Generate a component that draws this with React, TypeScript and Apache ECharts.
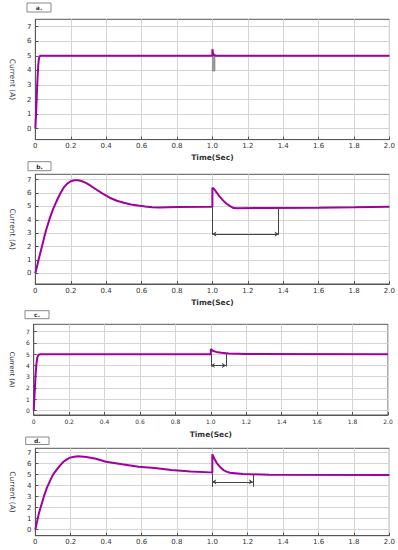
import React, { useEffect, useRef } from "react";
import * as echarts from "echarts";

// Panel a
const tA = [0, 0.004, 0.008, 0.012, 0.016, 0.02, 0.025, 0.03, 1.0, 1.0, 1.003, 1.006, 1.01, 1.02, 2.0];
const iA = [0, 1.0, 2.2, 3.4, 4.3, 4.8, 4.97, 5.0, 5.0, 5.45, 5.2, 5.1, 5.05, 5.0, 5.0];
// Panel b
const tB = [0, 0.02, 0.04, 0.06, 0.08, 0.1, 0.12, 0.14, 0.16, 0.18, 0.2, 0.22, 0.24, 0.26, 0.28, 0.3, 0.34, 0.38, 0.42, 0.46, 0.5, 0.54, 0.58, 0.62, 0.66, 0.7, 0.75, 0.8, 1.0, 1.0, 1.01, 1.02, 1.04, 1.06, 1.08, 1.1, 1.12, 1.14, 1.3, 1.6, 1.8, 2.0];
const iB = [0, 1.1, 2.15, 3.2, 4.05, 4.8, 5.4, 5.95, 6.4, 6.7, 6.88, 6.96, 6.96, 6.9, 6.8, 6.65, 6.3, 5.95, 5.65, 5.42, 5.27, 5.15, 5.06, 4.99, 4.94, 4.92, 4.94, 4.95, 4.97, 6.4, 6.3, 6.1, 5.75, 5.45, 5.2, 5.02, 4.88, 4.86, 4.88, 4.9, 4.93, 4.97];
// Panel c
const tC = [0, 0.005, 0.01, 0.015, 0.02, 0.025, 0.03, 0.04, 1.0, 1.0, 1.01, 1.03, 1.06, 1.1, 1.2, 2.0];
const iC = [0, 1.5, 3.0, 4.1, 4.7, 4.9, 4.97, 5.0, 5.0, 5.45, 5.3, 5.2, 5.12, 5.06, 5.02, 5.0];
// Panel d
const tD = [0, 0.01, 0.02, 0.035, 0.048, 0.065, 0.085, 0.1, 0.122, 0.14, 0.159, 0.18, 0.196, 0.22, 0.242, 0.288, 0.343, 0.399, 0.49, 0.583, 0.675, 0.768, 0.878, 0.989, 1.0, 1.0, 1.013, 1.026, 1.045, 1.063, 1.08, 1.1, 1.173, 1.32, 2.0];
const iD = [0, 0.75, 1.48, 2.3, 3.0, 3.8, 4.5, 5.0, 5.48, 5.85, 6.18, 6.42, 6.55, 6.64, 6.67, 6.6, 6.45, 6.18, 5.94, 5.73, 5.6, 5.42, 5.3, 5.21, 5.2, 6.85, 6.4, 6.03, 5.68, 5.42, 5.28, 5.18, 5.06, 4.99, 4.97];

// Annotations: [xStart, xEnd, yTopStart, yTopEnd, yBottom, yArrow]
const annB = [1.0, 1.374, 4.97, 4.89, 2.88, 2.93];
const annC = [1.0, 1.085, 5.0, 5.05, 3.9, 4.0];
const annD = [1.0, 1.229, 5.1, 5.02, 3.9, 4.35];
const spikeBarA = [1.0, 1.015, 3.95, 5.0];

const yTicks = [0, 1, 2, 3, 4, 5, 6, 7];
const panelLabels = ["a.", "b.", "c.", "d."];

const PURPLE = "#a000a0";
const FONT = "DejaVu Sans";

export default function App() {
  const ref = useRef<HTMLDivElement>(null);
  useEffect(() => {
    const chart = echarts.init(ref.current!, null, { renderer: "svg" });

    const grids = [
      { left: 28, top: 19.3, width: 362, height: 120.3 },
      { left: 29, top: 174.3, width: 363, height: 109.7 },
      { left: 26, top: 324.3, width: 362, height: 90.7 },
      { left: 28, top: 448.3, width: 361.3, height: 87.4 },
    ];
    const yRanges = [
      [-0.75, 7.5],
      [-0.8, 7.4],
      [-0.4, 7.65],
      [-0.55, 7.4],
    ];
    const fontSizes = [7, 7, 6, 7];
    const showName = [true, true, true, false];

    const xAxes = grids.map((_, k) => ({
      type: "value",
      gridIndex: k,
      min: 0,
      max: 2,
      interval: 0.2,
      name: showName[k] ? "Time(Sec)" : "",
      nameLocation: "middle",
      nameGap: k === 2 ? 15 : 14,
      nameTextStyle: { fontFamily: FONT, fontSize: 7.5, fontWeight: "bold", color: "#333" },
      axisLine: { show: true, onZero: false, lineStyle: { color: "#555", width: 1 } },
      axisTick: { show: true, inside: true, length: 3, lineStyle: { color: "#555" } },
      axisLabel: {
        fontFamily: FONT,
        fontSize: fontSizes[k],
        color: "#333",
        margin: 3,
        formatter: (v: number) => (v === 0 ? "0" : v.toFixed(1)),
      },
      splitLine: { show: true, lineStyle: { color: "#d4d4d4", width: 1 } },
    }));

    const yAxes = grids.map((_, k) => ({
      type: "value",
      gridIndex: k,
      min: yRanges[k][0],
      max: yRanges[k][1],
      name: "Current (A)",
      nameLocation: "middle",
      nameRotate: -90,
      nameGap: k === 2 ? 13 : 15,
      nameTextStyle: { fontFamily: FONT, fontSize: k === 2 ? 6.5 : 7.5, color: "#333" },
      axisLine: { show: true, onZero: false, lineStyle: { color: "#555", width: 1 } },
      axisTick: { show: true, inside: true, length: 3, customValues: yTicks, lineStyle: { color: "#555" } },
      axisLabel: { fontFamily: FONT, fontSize: fontSizes[k], color: "#333", margin: 4, customValues: yTicks },
      splitLine: { show: true, lineStyle: { color: "#d4d4d4", width: 1 } },
    }));

    const zip = (t: number[], v: number[]) => t.map((x, i) => [x, v[i]]);

    const annotation = (a: number[]) => ({
      silent: true,
      symbol: ["none", "none"],
      lineStyle: { color: "#444", width: 1, type: "solid" },
      label: { show: false },
      data: [
        [{ coord: [a[0], a[2]] }, { coord: [a[0], a[4]] }],
        [{ coord: [a[1], a[3]] }, { coord: [a[1], a[4]] }],
        [
          { coord: [a[0], a[5]], symbol: "arrow", symbolSize: 4 },
          { coord: [a[1], a[5]], symbol: "arrow", symbolSize: 4 },
        ],
      ],
    });

    const base = (k: number, data: number[][]) => ({
      type: "line",
      xAxisIndex: k,
      yAxisIndex: k,
      data,
      showSymbol: false,
      symbol: "none",
      lineStyle: { color: PURPLE, width: 2 },
      itemStyle: { color: PURPLE },
      z: 3,
    });

    const series: any[] = [
      {
        ...base(0, zip(tA, iA)),
        markArea: {
          silent: true,
          itemStyle: { color: "#9a9a9a", borderColor: "#777", borderWidth: 0.5 },
          data: [[{ coord: [spikeBarA[0], spikeBarA[2]] }, { coord: [spikeBarA[1], spikeBarA[3]] }]],
        },
      },
      { ...base(1, zip(tB, iB)), markLine: annotation(annB) },
      { ...base(2, zip(tC, iC)), markLine: annotation(annC) },
      { ...base(3, zip(tD, iD)), markLine: annotation(annD) },
    ];

    const labelBoxes = [
      { x: 27, y: 3, w: 24, h: 9 },
      { x: 28, y: 161.7, w: 23, h: 9 },
      { x: 25, y: 310.7, w: 24, h: 8 },
      { x: 25.7, y: 437, w: 23.3, h: 7.5 },
    ];
    const graphic: any[] = [];
    labelBoxes.forEach((b, k) => {
      graphic.push({
        type: "rect",
        shape: { x: b.x, y: b.y, width: b.w, height: b.h },
        style: { fill: "#fff", stroke: "#888", lineWidth: 1 },
      });
      graphic.push({
        type: "text",
        x: b.x + b.w / 2,
        y: b.y + b.h / 2,
        style: {
          text: panelLabels[k],
          font: `bold 6px ${FONT}`,
          fill: "#333",
          align: "center",
          verticalAlign: "middle",
        },
      });
    });

    chart.setOption({
      animation: false,
      backgroundColor: "#ffffff",
      grid: grids.map((g) => ({ ...g, show: true, borderColor: "#555", borderWidth: 1, backgroundColor: "transparent" })),
      xAxis: xAxes,
      yAxis: yAxes,
      series,
      graphic,
    });
    return () => chart.dispose();
  }, []);
  return (
    <div
      ref={ref}
      style={{ position: "fixed", left: 0, top: 0, width: 398, height: 550, background: "#fff" }}
    />
  );
}
